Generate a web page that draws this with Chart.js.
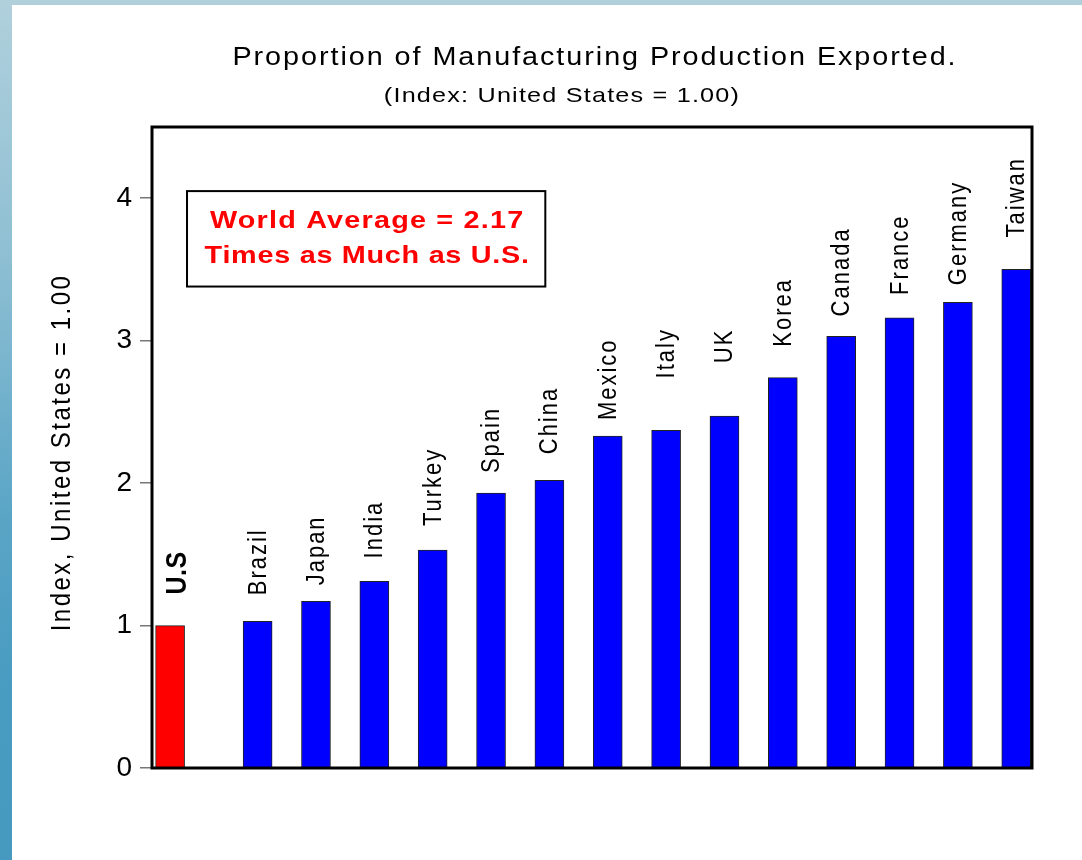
<!DOCTYPE html>
<html>
<head>
<meta charset="utf-8">
<script src="https://cdn.jsdelivr.net/npm/chart.js@4/dist/chart.umd.min.js"></script>
<style>
  html, body { margin: 0; padding: 0; }
  body {
    width: 1082px; height: 860px; overflow: hidden; position: relative;
    background: linear-gradient(to bottom, #b0d0dc 0%, #8ebfd3 30%, #5aa5c6 60%, #489bc1 80%, #469ac0 100%);
  }
  #paper { position: absolute; left: 12px; top: 5px; right: 0; bottom: 0; background: #fff; }
  #chart { position: absolute; left: 0; top: 0; }
</style>
</head>
<body>
<div id="paper"></div>
<canvas id="chart" width="1082" height="860"></canvas>
<script>
var FONT = "Arial, 'Liberation Sans', sans-serif";

// countries, U.S. first (set apart from the rest)
var countries = ['U.S', 'Brazil', 'Japan', 'India', 'Turkey', 'Spain', 'China', 'Mexico',
                 'Italy', 'UK', 'Korea', 'Canada', 'France', 'Germany', 'Taiwan'];
// index, United States = 1.00
var indexValues = [1.00, 1.03, 1.17, 1.31, 1.53, 1.93, 2.02, 2.33,
                   2.37, 2.47, 2.74, 3.03, 3.16, 3.27, 3.50];
var yTicks = [0, 1, 2, 3, 4];
var titleText = 'Proportion of Manufacturing Production Exported.';
var subtitleText = '(Index: United States = 1.00)';
var yTitleText = 'Index, United States = 1.00';
var noteLines = ['World Average = 2.17', 'Times as Much as U.S.'];

// the U.S. bar sits half a slot apart from the others
function slot(i) { return i === 0 ? 0 : i + 0.5; }

var points = countries.map(function (c, i) { return { x: slot(i), y: indexValues[i] }; });
var colors = countries.map(function (c, i) { return i === 0 ? '#ff0000' : '#0000ff'; });

// the slide text is a bit wide and letter spaced, so draw it by hand
function wideText(ctx, text, x, y, font, spacing, stretch) {
    ctx.save();
    ctx.font = font;
    ctx.letterSpacing = spacing + 'px';
    ctx.translate(x, y);
    ctx.scale(stretch, 1);
    ctx.textAlign = 'center';
    ctx.textBaseline = 'middle';
    ctx.fillText(text, 0, 0);
    ctx.restore();
}

var textPlugin = {
    id: 'slideText',
    afterDraw: function (chart) {
        var ctx = chart.ctx, a = chart.chartArea;
        var xs = chart.scales.x, ys = chart.scales.y;
        var cx = (a.left + a.right) / 2;
        ctx.save();

        // frame round the plot
        ctx.strokeStyle = '#000';
        ctx.lineWidth = 3;
        ctx.strokeRect(a.left, a.top, a.right - a.left, a.bottom - a.top);

        // titles
        ctx.fillStyle = '#000';
        wideText(ctx, titleText, cx + 3, a.top - 69, '25px ' + FONT, 1.7, 1.15);
        wideText(ctx, subtitleText, cx - 30, a.top - 31, '21px ' + FONT, 1, 1.2);

        // y axis title
        ctx.save();
        ctx.translate(a.left - 90, (a.top + a.bottom) / 2 + 5);
        ctx.rotate(-Math.PI / 2);
        ctx.scale(1, 1.15);
        ctx.font = '24px ' + FONT;
        ctx.letterSpacing = '2.5px';
        ctx.textAlign = 'center';
        ctx.textBaseline = 'middle';
        ctx.fillText(yTitleText, 0, 0);
        ctx.restore();

        // world average note
        var l = xs.getPixelForValue(0.29), r = xs.getPixelForValue(6.43);
        var t = ys.getPixelForValue(4.05), b = ys.getPixelForValue(3.38);
        ctx.lineWidth = 2;
        ctx.fillStyle = '#fff';
        ctx.fillRect(l, t, r - l, b - t);
        ctx.strokeRect(l, t, r - l, b - t);
        ctx.fillStyle = '#ff0000';
        var mid = (t + b) / 2;
        wideText(ctx, noteLines[0], (l + r) / 2 + 1, mid - 17, 'bold 24px ' + FONT, 1, 1.2);
        wideText(ctx, noteLines[1], (l + r) / 2 + 1, mid + 18, 'bold 24px ' + FONT, 0.6, 1.2);
        ctx.restore();
    }
};

// rotated country names above the bars
var barLabelPlugin = {
    id: 'barLabels',
    afterDatasetsDraw: function (chart, args, opts) {
        var ctx = chart.ctx;
        var meta = chart.getDatasetMeta(0);
        ctx.save();
        ctx.fillStyle = '#000';
        ctx.textAlign = 'left';
        ctx.textBaseline = 'middle';
        meta.data.forEach(function (bar, i) {
            ctx.save();
            var dx = 1;
            if (i === 0) {
                ctx.font = 'bold 25px ' + FONT;
                ctx.letterSpacing = '0.5px';
                dx = opts.usShift;
            } else {
                ctx.font = '22px ' + FONT;
                ctx.letterSpacing = '2px';
            }
            ctx.translate(bar.x + dx, bar.y - opts.gaps[i]);
            ctx.rotate(-Math.PI / 2);
            ctx.scale(1, 1.15);
            ctx.fillText(countries[i], 0, 0);
            ctx.restore();
        });
        ctx.restore();
    }
};

var config = {
    type: 'bar',
    data: {
        datasets: [{
            data: points,
            backgroundColor: colors,
            borderColor: '#222',
            borderWidth: 1,
            barThickness: 29
        }]
    },
    options: {
        responsive: false,
        animation: false,
        events: [],
        layout: { padding: { left: 0, right: 50, top: 127, bottom: 92 } },
        scales: {
            x: {
                type: 'linear',
                display: false,
                offset: false,
                min: -0.31,
                max: 14.77
            },
            y: {
                min: 0,
                max: 4.5,
                afterBuildTicks: function (s) {
                    s.ticks = yTicks.map(function (v) { return { value: v }; });
                },
                afterFit: function (s) { s.width = 152; },
                border: { display: false },
                grid: { drawOnChartArea: false, tickLength: 12, color: '#777', lineWidth: 1.5 },
                ticks: { color: '#000', padding: 8, font: { family: FONT, size: 28 } }
            }
        },
        plugins: {
            legend: { display: false },
            tooltip: { enabled: false },
            barLabels: {
                gaps: [31, 26, 16, 23, 24, 20, 26, 16, 52, 53, 31, 20, 23, 17, 32],
                usShift: 8
            }
        }
    },
    plugins: [textPlugin, barLabelPlugin]
};

var chart = new Chart(document.getElementById('chart').getContext('2d'), config);
</script>
</body>
</html>
